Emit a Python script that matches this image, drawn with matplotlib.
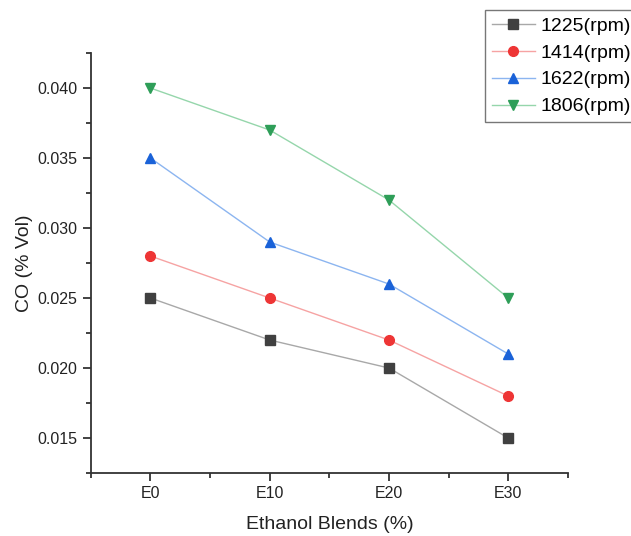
import numpy as np
import matplotlib
matplotlib.use("Agg")
from matplotlib import pyplot as plt
from matplotlib.ticker import MultipleLocator

plt.rcParams['font.family'] = ['Liberation Sans', 'DejaVu Sans']

blends = ['E0', 'E10', 'E20', 'E30']
speeds = ['1225(rpm)', '1414(rpm)', '1622(rpm)', '1806(rpm)']
co_1225 = [0.025, 0.022, 0.020, 0.015]
co_1414 = [0.028, 0.025, 0.022, 0.018]
co_1622 = [0.035, 0.029, 0.026, 0.021]
co_1806 = [0.040, 0.037, 0.032, 0.025]

series = [co_1225, co_1414, co_1622, co_1806]
markers = ['s', 'o', '^', 'v']
mcolors = ['#404040', '#ee3535', '#1a62d8', '#2e9e58']
lcolors = ['#a8a8a8', '#f6a3a3', '#8cb5f0', '#95d6ab']

fig = plt.figure(figsize=(6.31, 5.36), dpi=100)
ax = fig.add_axes([0.144, 0.1175, 0.756, 0.7835])

x = np.arange(len(blends))
for vals, lab, m, mc, lc in zip(series, speeds, markers, mcolors, lcolors):
    ax.plot(x, vals, color=lc, lw=1.0, marker=m, ms=7, mfc=mc, mec=mc, label=lab)

ax.set_xlim(-0.5, 3.5)
ax.set_ylim(0.0125, 0.0425)
ax.set_xticks(x)
ax.set_xticklabels(blends)
ax.xaxis.set_minor_locator(MultipleLocator(0.5))
ax.yaxis.set_major_locator(MultipleLocator(0.005))
ax.yaxis.set_minor_locator(MultipleLocator(0.0025))
ax.yaxis.set_major_formatter(matplotlib.ticker.FormatStrFormatter('%.3f'))

for s in ['top', 'right']:
    ax.spines[s].set_visible(False)
for s in ['left', 'bottom']:
    ax.spines[s].set_linewidth(1.3)
    ax.spines[s].set_color('#333333')
ax.tick_params(which='major', direction='out', length=6, width=1.3, colors='#333333',
               labelsize=11.5, labelcolor='#222222')
ax.tick_params(which='minor', direction='out', length=3.5, width=1.3, colors='#333333')

ax.set_xlabel('Ethanol Blends (%)', fontsize=14, color='#222222', labelpad=11)
ax.set_ylabel('CO (% Vol)', fontsize=14, color='#222222', labelpad=3)

# legend box runs past the right edge of the figure
leg = fig.legend(loc='upper left', bbox_to_anchor=(0.769, 0.981), fontsize=14,
                 frameon=True, fancybox=False, handlelength=2.2, handletextpad=0.3,
                 labelspacing=0.48, borderpad=0.35, borderaxespad=0)
leg.get_frame().set_edgecolor('#555555')
leg.get_frame().set_linewidth(1.0)

fig.savefig('out.png', dpi=100)
